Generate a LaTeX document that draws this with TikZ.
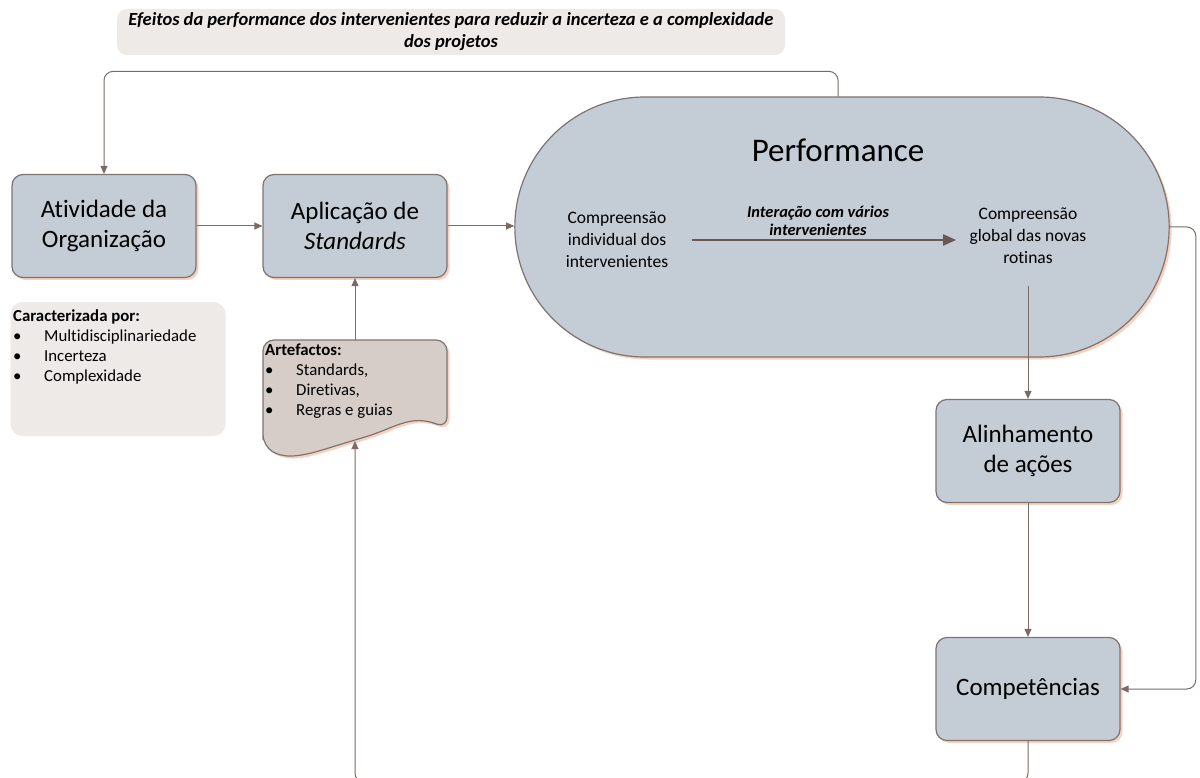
\documentclass[tikz,border=0pt]{standalone}
\usepackage{fontspec}
\setmainfont{Carlito}[Ligatures=NoCommon]
\usetikzlibrary{arrows.meta,shapes.misc,shadows}

\definecolor{boxfill}{RGB}{196,204,214}
\definecolor{boxline}{RGB}{125,115,112}
\definecolor{arrowc}{RGB}{123,106,101}
\definecolor{shadowc}{RGB}{247,210,192}
\definecolor{notefill}{RGB}{238,234,232}
\definecolor{docfill}{RGB}{214,205,200}
\definecolor{innerarrow}{RGB}{108,88,82}

\newcommand{\itm}[1]{\makebox[31pt][l]{\textbullet}#1}

\begin{document}
\begin{tikzpicture}[x=1pt,y=-1pt,
  peach/.style={drop shadow={shadow xshift=2.5pt,shadow yshift=-2.5pt,fill=shadowc,opacity=1}},
  stepbox/.style={rectangle,rounded corners=11pt,draw=boxline,line width=1.2pt,fill=boxfill,peach,
    minimum width=184pt,minimum height=103pt,align=center,font=\fontsize{25}{30}\selectfont},
  link/.style={draw=arrowc,line width=1pt,-{Triangle[width=7pt,length=8pt]}},
  smalltxt/.style={align=center,font=\fontsize{17.5}{22}\selectfont},
  listtxt/.style={align=left,anchor=north west,inner sep=2pt,font=\fontsize{16.8}{20}\selectfont}]
\useasboundingbox (0,0) rectangle (1200,778);

% banner on top
\node[fill=notefill,rounded corners=10pt,minimum width=668pt,minimum height=46pt,align=center,
  font=\fontsize{18.5}{22}\selectfont\bfseries\itshape] (efeitos) at (451,32)
  {Efeitos da performance dos intervenientes para reduzir a incerteza e a complexidade\\dos projetos};

% main boxes
\node[stepbox] (ativ) at (104,226) {Atividade da\\Organização};
\node[stepbox] (aplic) at (355,226) {Aplicação de\\\textit{Standards}};
\node[rounded rectangle,draw=boxline,line width=1.2pt,fill=boxfill,peach,
  minimum width=661pt,minimum height=260pt] (perf) at (842,227) {};
\node[font=\fontsize{33}{38}\selectfont] (perftitle) at (838,150) {Performance};
\node[smalltxt] (indiv) at (617,240) {Compreensão\\individual dos\\intervenientes};
\node[smalltxt] (global) at (1028,236) {Compreensão\\global das novas\\rotinas};
\node[align=center,font=\fontsize{16.4}{18.5}\selectfont\bfseries\itshape] (inter) at (818,221)
  {Interação com vários\\intervenientes};
\node[stepbox] (alin) at (1028,451) {Alinhamento\\de ações};
\node[stepbox] (compet) at (1028,689) {Competências};

% characterisation note
\node[fill=notefill,rounded corners=12pt,minimum width=215pt,minimum height=134pt] (carac) at (118,369) {};
\node[listtxt] (caractxt) at (11,308) {\textbf{Caracterizada por:}\\
  \itm{Multidisciplinariedade}\\\itm{Incerteza}\\\itm{Complexidade}};

% document with artefacts
\path[draw=boxline,line width=1.2pt,fill=docfill,peach,rounded corners=11pt]
  (263,446) -- (263,340) -- (447,340) -- (447,428)
  .. controls (410,414) and (395,428) .. (355,440)
  .. controls (315,452) and (290,462) .. cycle;
\node[listtxt] (artef) at (263,342) {\textbf{Artefactos:}\\
  \itm{Standards,}\\\itm{Diretivas,}\\\itm{Regras e guias}};
\coordinate (artefTop) at (355,340);
\coordinate (artefBot) at (355,441);

% connectors
\draw[link] (ativ.east) -- (aplic.west);
\draw[link] (aplic.east) -- (aplic.east -| perf.west);
\draw[link] (artefTop) -- (aplic.south);
\draw[draw=innerarrow,line width=2pt,-{Triangle[width=11pt,length=13pt]},shorten <=20pt,shorten >=10pt]
  (indiv.east) -- (indiv.east -| global.west);
\draw[link] ([yshift=-19pt]global.south) -- (alin.north);
\draw[link] (alin.south) -- (compet.north);
\draw[link,rounded corners=9pt] (perftitle |- perf.north) -- ++(0,-25) -| (ativ.north);
\draw[link,rounded corners=9pt] (perf.east) -- ++(26,0) |- (compet.east);
\draw[link,rounded corners=9pt] (compet.south) -- ++(0,41) -| (artefBot);
\end{tikzpicture}
\end{document}
